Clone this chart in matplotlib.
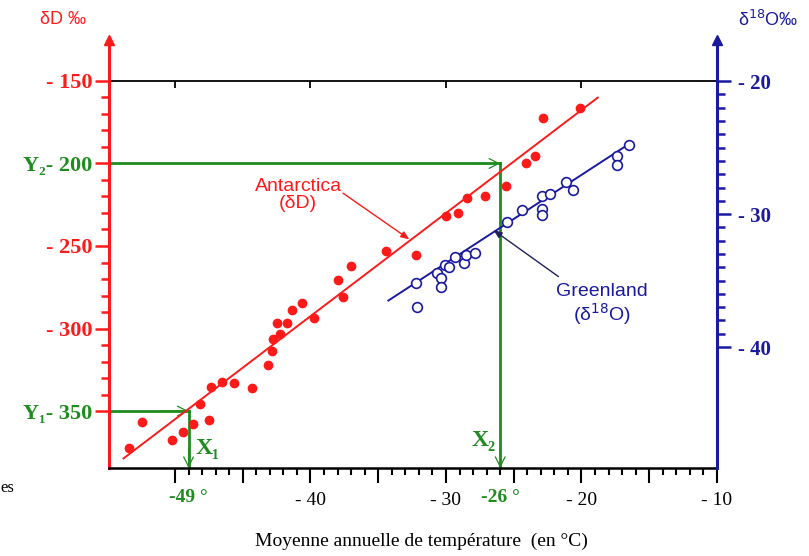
import numpy as np
import matplotlib
matplotlib.use("Agg")
import matplotlib.pyplot as plt

# couleurs
RED = "#ff1a1a"
BLUE = "#1a1a9e"
GREEN = "#1f8c1f"

SERIF = ["Liberation Serif", "DejaVu Serif"]
SANS = ["Liberation Sans", "DejaVu Sans"]

# Antarctique : température (°C) et δD (‰)
ant_temp = [-53.4, -52.4, -50.2, -49.4, -48.65, -47.5, -48.15, -47.35, -46.55, -45.65,
            -44.35, -43.15, -42.85, -42.75, -42.25, -42.45, -41.75, -41.35, -40.6, -39.75,
            -38.0, -37.6, -37.0, -34.4, -32.2, -30.0, -29.15, -28.45, -27.1, -25.6,
            -24.1, -23.45, -22.85, -20.1]
ant_dD = [-372.6, -356.8, -367.8, -362.5, -357.7, -355.6, -345.8, -335.5, -332.6, -333.2,
          -336.2, -322.1, -313.6, -306.4, -303.3, -296.8, -296.5, -289.0, -284.5, -293.8,
          -270.8, -280.9, -262.1, -253.0, -255.5, -231.8, -230.3, -221.1, -219.7, -213.6,
          -199.5, -195.3, -172.4, -166.2]
ant_fit_t = [-53.8, -18.8]
ant_fit_d = [-378.7, -160.1]

# Groenland : température (°C) et δ18O (‰)
gr_temp = [-32.25, -32.15, -30.65, -30.35, -30.4, -30.05, -29.75, -29.3, -28.7, -28.5,
           -27.85, -25.5, -24.4, -22.9, -22.3, -22.9, -22.9, -21.15, -20.65, -17.35,
           -17.35, -16.5]
gr_d18O = [-35.2, -37.0, -34.4, -34.8, -35.5, -33.8, -34.0, -33.2, -33.7, -33.05,
           -32.9, -30.6, -29.7, -28.6, -28.5, -29.6, -30.1, -27.6, -28.2, -25.65,
           -26.3, -24.8]
gr_fit_t = [-34.25, -16.4]
gr_fit_d = [-36.5, -24.66]

# lectures graphiques (X1, Y1) et (X2, Y2)
guide_x = [-49, -26]
guide_y = [-350, -200]

XMIN, XMAX = -54.87, -10
YMIN, YMAX = -384.5, -125.2
Y2MIN, Y2MAX = -49.1, -16.9

fig = plt.figure(figsize=(8.09, 5.56), dpi=100)
ax = fig.add_axes([109 / 809, 88 / 556, 608 / 809, 428 / 556])
ax2 = ax.twinx()

ax.set_xlim(XMIN, XMAX)
ax.set_ylim(YMIN, YMAX)
ax2.set_ylim(Y2MIN, Y2MAX)

for a in (ax, ax2):
    a.spines["top"].set_visible(False)
ax.spines["right"].set_visible(False)
ax2.spines["left"].set_visible(False)
ax2.spines["bottom"].set_visible(False)
ax.spines["left"].set_color(RED)
ax.spines["left"].set_linewidth(2.2)
ax2.spines["right"].set_color(BLUE)
ax2.spines["right"].set_linewidth(2.2)
ax.spines["bottom"].set_color("black")
ax.spines["bottom"].set_linewidth(1.8)

# flèches en haut des axes verticaux
ax.plot([0], [1], marker="^", color=RED, ms=7, transform=ax.transAxes, clip_on=False)
ax2.plot([1], [1], marker="^", color=BLUE, ms=7, transform=ax2.transAxes, clip_on=False)

# ligne horizontale du haut (-150)
ax.plot([XMIN, XMAX], [-150, -150], color="black", lw=1.3, zorder=1)
ax.vlines([-50, -40, -30, -20], -150, -154.5, color="black", lw=1.3)

# axe gauche
ax.set_yticks(np.arange(-350, -149, 50))
ax.set_yticks(np.arange(-350, -149, 10), minor=True)
ax.set_yticklabels(["Y\u2081- 350", "- 300", "- 250", "Y\u2082- 200", "- 150"],
                   fontfamily=SERIF, fontsize=16, fontweight="bold")
ax.tick_params(axis="y", which="major", length=10, width=1.8, color=RED, pad=2)
ax.tick_params(axis="y", which="minor", length=6, width=1.8, color=RED)
for lab in ax.get_yticklabels():
    lab.set_color(GREEN if lab.get_text().startswith("Y") else RED)

# axe du bas
ax.set_xticks(np.arange(-50, -9, 5))
ax.set_xticks(np.arange(-50, -9, 1), minor=True)
ax.set_xticklabels(["", "", "- 40", "", "- 30", "", "- 20", "", "- 10"],
                   fontfamily=SERIF, fontsize=14)
ax.tick_params(axis="x", which="major", length=11, width=1.5, color="black", pad=6)
ax.tick_params(axis="x", which="minor", length=5, width=1.5, color="black")

# axe droit
ax2.set_yticks(np.arange(-40, -19, 10))
ax2.set_yticks(np.arange(-40, -19, 1), minor=True)
ax2.set_yticklabels(["- 40", "- 30", "- 20"], fontfamily=SERIF, fontsize=15,
                    fontweight="bold", color=BLUE)
ax2.tick_params(axis="y", which="major", length=10, width=1.8, color=BLUE, pad=5)
ax2.tick_params(axis="y", which="minor", length=6, width=1.8, color=BLUE)

# guides verts
for gx, gy in zip(guide_x, guide_y):
    ax.plot([XMIN, gx], [gy, gy], color=GREEN, lw=2, zorder=2)
    ax.plot([gx, gx], [gy, YMIN], color=GREEN, lw=2, zorder=2, clip_on=False)
    ax.annotate("", xy=(gx, gy), xytext=(gx - 2, gy),
                arrowprops=dict(arrowstyle="->,head_length=0.7,head_width=0.35",
                                color=GREEN, lw=0.9, shrinkA=0, shrinkB=0))
    ax.annotate("", xy=(gx, YMIN), xytext=(gx, YMIN + 12),
                arrowprops=dict(arrowstyle="->,head_length=0.7,head_width=0.35",
                                color=GREEN, lw=0.9, shrinkA=0, shrinkB=0),
                annotation_clip=False)
    ax.text(gx, YMIN - 13, f"{gx} \u00b0", color=GREEN, fontweight="bold",
            fontfamily=SERIF, fontsize=14, ha="center", va="top")

ax.text(guide_x[0] + 0.55, -379, "X\u2081", color=GREEN, fontweight="bold",
        fontfamily=SERIF, fontsize=17, ha="left", va="bottom")
ax.text(guide_x[1] - 0.35, -374, "X\u2082", color=GREEN, fontweight="bold",
        fontfamily=SERIF, fontsize=17, ha="right", va="bottom")

# données
ax.plot(ant_fit_t, ant_fit_d, color=RED, lw=1.4, zorder=3)
ax.plot(ant_temp, ant_dD, "o", color=RED, ms=6, mec=RED, zorder=4)
ax2.plot(gr_fit_t, gr_fit_d, color=BLUE, lw=1.4, zorder=3)
ax2.plot(gr_temp, gr_d18O, "o", mfc="white", mec=BLUE, mew=1.2, ms=7, zorder=4)

# étiquettes des séries
ax.text(-40.9, -219, "Antarctica\n(\u03b4D)", color=RED, fontfamily=SANS,
        fontsize=14, ha="center", va="center", linespacing=1.0)
ax.annotate("", xy=(-32.7, -246), xytext=(-37.6, -218),
            arrowprops=dict(arrowstyle="-|>,head_length=0.5,head_width=0.2",
                            color=RED, lw=1.0, shrinkA=0, shrinkB=0))
ax2.text(-18.5, -36.85, "Greenland\n(\u03b4$^{18}$O)", color=BLUE, fontfamily=SANS,
         fontsize=14, ha="center", va="center", linespacing=1.05)
ax2.annotate("", xy=(-26.5, -31.2), xytext=(-21.7, -34.7),
             arrowprops=dict(arrowstyle="-|>,head_length=0.5,head_width=0.2",
                             color="#202060", lw=1.0, shrinkA=0, shrinkB=0))

# titres des axes
fig.text(40 / 809, 1 - 20 / 556, "\u03b4D \u2030", color=RED, fontfamily=SANS,
         fontsize=13, ha="left", va="center")
fig.text(738 / 809, 1 - 20 / 556, "\u03b4$^{18}$O\u2030", color=BLUE, fontfamily=SANS,
         fontsize=13, ha="left", va="center")
fig.text(421 / 809, 1 - 541 / 556, "Moyenne annuelle de temp\u00e9rature  (en \u00b0C)",
         fontfamily=SERIF, fontsize=14, ha="center", va="center")
fig.text(0, 1 - 488 / 556, "es", fontfamily=SERIF, fontsize=12, ha="left", va="center")

fig.savefig("out.png", dpi=100)
